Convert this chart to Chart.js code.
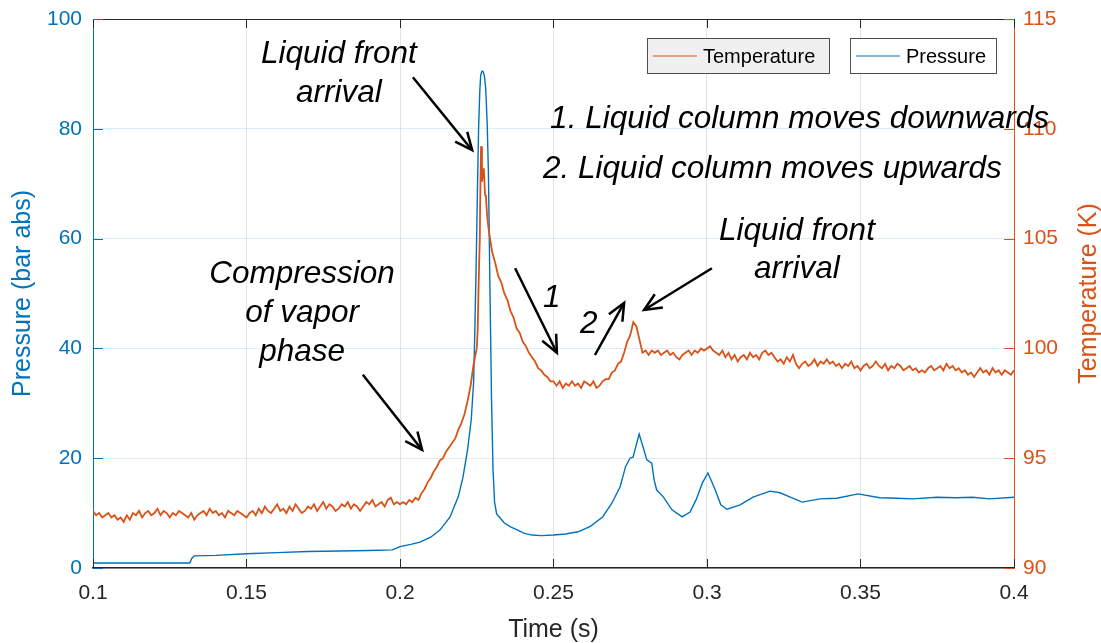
<!DOCTYPE html>
<html><head><meta charset="utf-8">
<script src="https://cdn.jsdelivr.net/npm/chart.js@4.4.1/dist/chart.umd.min.js"></script>
<style>html,body{margin:0;padding:0;background:#fff;}canvas{display:block;}</style>
</head><body>
<canvas id="c" width="1101" height="643"></canvas>
<script>
// ---------- data ----------
const xTicks = [0.1, 0.15, 0.2, 0.25, 0.3, 0.35, 0.4];
const xTickLabels = ['0.1', '0.15', '0.2', '0.25', '0.3', '0.35', '0.4'];
const pressureTicks = [0, 20, 40, 60, 80, 100];
const temperatureTicks = [90, 95, 100, 105, 110, 115];

const pressureTime = [0.100, 0.1315, 0.1322, 0.1330, 0.140, 0.150, 0.160, 0.170, 0.180, 0.190, 0.1975, 0.200, 0.2035, 0.2065,
  0.210, 0.213, 0.2163, 0.219, 0.2205, 0.222, 0.2232, 0.224, 0.2244, 0.2248, 0.2252, 0.2256, 0.226, 0.2263, 0.2267, 0.2271, 0.2275,
  0.2279, 0.2284, 0.2288, 0.2293, 0.2298, 0.2303, 0.2308, 0.2315, 0.2325, 0.234, 0.236, 0.238, 0.2405, 0.243, 0.246, 0.250, 0.254, 0.258,
  0.262, 0.266, 0.269, 0.2717, 0.2735, 0.2749, 0.2759, 0.2779, 0.2792, 0.2804, 0.282, 0.2828, 0.2836, 0.2857, 0.2886, 0.2919,
  0.2945, 0.2965, 0.2985, 0.3003, 0.3025, 0.3045, 0.3065, 0.3108, 0.315, 0.3205, 0.3238, 0.3275, 0.331, 0.3368, 0.3423,
  0.3492, 0.3563, 0.362, 0.367, 0.3749, 0.381, 0.3866, 0.392, 0.400];
const pressureBar = [0.9, 0.9, 1.8, 2.2, 2.3, 2.6, 2.8, 3.0, 3.1, 3.2, 3.3, 3.9, 4.3, 4.7,
  5.6, 6.9, 9.3, 13.0, 16.5, 21.5, 27, 34, 44, 55, 68, 80, 87, 89.8, 90.5, 90.4, 89.6,
  87.5, 81, 72, 51, 31, 18, 12, 9.8, 9.2, 8.2, 7.5, 7.0, 6.3, 6.0, 5.9, 6.0, 6.2, 6.6,
  7.6, 9.3, 11.8, 14.8, 18.5, 20.0, 20.2, 24.4, 22.0, 19.7, 19.1, 16.0, 14.2, 13.0, 10.6, 9.3,
  10.2, 12.5, 15.5, 17.3, 14.5, 11.5, 10.7, 11.5, 12.9, 14.0, 13.7, 12.8, 12.0, 12.6, 12.7,
  13.5, 12.8, 12.7, 12.6, 12.9, 12.8, 12.9, 12.6, 12.9];

// temperature sampled every 1 ms from 0.100 s to 0.400 s
const tempStart = 0.1, tempStep = 0.001;
const temperatureK = [
  92.6, 92.4, 92.5, 92.3, 92.4, 92.5, 92.3, 92.4, 92.2, 92.3,
  92.1, 92.4, 92.2, 92.5, 92.4, 92.6, 92.3, 92.5, 92.6, 92.4,
  92.5, 92.7, 92.4, 92.6, 92.5, 92.3, 92.5, 92.4, 92.6, 92.5,
  92.4, 92.3, 92.5, 92.2, 92.4, 92.5, 92.6, 92.4, 92.7, 92.5,
  92.6, 92.4, 92.5, 92.3, 92.6, 92.5, 92.4, 92.6, 92.5, 92.4,
  92.3, 92.5, 92.6, 92.4, 92.7, 92.5, 92.8, 92.6, 92.5, 92.7,
  92.9, 92.6, 92.7, 92.5, 92.8, 92.6, 92.9, 92.7, 92.5, 92.6,
  92.8, 92.7, 92.9, 92.6, 92.8, 93.0, 92.7, 92.9, 92.8, 92.6,
  92.7, 92.9, 92.8, 93.0, 92.7, 92.9, 92.8, 92.6, 92.8, 93.0,
  92.9, 93.1, 92.8, 92.9, 93.0, 92.8, 93.1, 93.2, 92.9, 93.0,
  92.9, 93.0, 92.9, 93.1, 93.0, 93.2, 93.1, 93.4, 93.6, 93.9,
  94.1, 94.4, 94.6, 94.9, 95.0, 95.3, 95.5, 95.7, 95.9, 96.3,
  96.6, 97.0, 97.6, 98.3, 99.3, 100.0, 105.0, 107.9, 106.9, 105.3,
  104.4, 103.9, 103.3, 103.0, 102.5, 102.2, 101.7, 101.4, 100.9, 100.7,
  100.3, 100.1, 99.8, 99.6, 99.4, 99.1, 99.0, 98.8, 98.7, 98.5,
  98.5, 98.3, 98.5, 98.2, 98.4, 98.3, 98.5, 98.3, 98.4, 98.2,
  98.5, 98.4, 98.3, 98.5, 98.2, 98.3, 98.5, 98.6, 98.6, 98.9,
  99.0, 99.3, 99.4, 99.8, 100.3, 100.6, 101.2, 101.0, 100.4, 99.8,
  99.9, 99.7, 99.9, 99.8, 99.9, 99.7, 99.8, 99.9, 99.7, 99.8,
  99.6, 99.5, 99.7, 99.8, 99.9, 99.7, 99.9, 99.8, 100.0, 99.9,
  100.0, 100.1, 99.9, 99.8, 99.7, 99.9, 99.6, 99.8, 99.5, 99.7,
  99.4, 99.6, 99.7, 99.5, 99.8, 99.6, 99.7, 99.5, 99.8, 99.9,
  99.7, 99.8, 99.6, 99.4, 99.5, 99.3, 99.6, 99.4, 99.7, 99.3,
  99.1, 99.3, 99.4, 99.2, 99.3, 99.5, 99.2, 99.4, 99.3, 99.5,
  99.3, 99.4, 99.2, 99.3, 99.1, 99.3, 99.2, 99.4, 99.1, 99.2,
  99.0, 99.2, 99.3, 99.1, 99.2, 99.4, 99.2, 99.1, 99.3, 99.0,
  99.2, 99.1, 99.3, 99.2, 99.0, 99.1, 99.2, 99.0, 99.1, 98.9,
  99.0, 98.9, 99.1, 99.2, 99.0, 99.1, 99.2, 99.0, 99.3, 99.1,
  99.2, 99.0, 99.1, 98.9, 99.0, 98.8, 98.9, 98.7, 98.9, 99.1,
  98.9, 99.0, 98.8, 99.1, 98.9, 99.0, 98.8, 99.0, 98.9, 98.8,
  99.0];
// extra samples around the temperature spike
const spikeTime = [0.2253, 0.2257, 0.2261, 0.2264, 0.2267, 0.2273, 0.2277, 0.2284];
const spikeK = [100.8, 103.5, 106.5, 109.2, 107.6, 108.2, 107.0, 106.0];

// annotations (positions in data units: time, pressure)
const notes = [
  {text: 'Liquid front', t: 0.1801, p: 92.0, align: 'center'},
  {text: 'arrival', t: 0.1801, p: 84.9, align: 'center'},
  {text: '1. Liquid column moves downwards', t: 0.2489, p: 80.1, align: 'left'},
  {text: '2. Liquid column moves upwards', t: 0.2466, p: 71.0, align: 'left'},
  {text: 'Compression', t: 0.1681, p: 51.9, align: 'center'},
  {text: 'of vapor', t: 0.1681, p: 44.8, align: 'center'},
  {text: 'phase', t: 0.1681, p: 37.7, align: 'center'},
  {text: 'Liquid front', t: 0.3293, p: 59.7, align: 'center'},
  {text: 'arrival', t: 0.3293, p: 52.8, align: 'center'},
  {text: '1', t: 0.2466, p: 47.5, align: 'left'},
  {text: '2', t: 0.2586, p: 42.8, align: 'left'}
];
const arrows = [
  {t1: 0.2042, p1: 89.4, t2: 0.2235, p2: 76.1},
  {t1: 0.1879, p1: 35.2, t2: 0.2072, p2: 21.5},
  {t1: 0.2375, p1: 54.6, t2: 0.2511, p2: 39.2},
  {t1: 0.2635, p1: 38.8, t2: 0.2730, p2: 48.3},
  {t1: 0.3016, p1: 54.6, t2: 0.2795, p2: 47.0}
];

// ---------- build ----------
const BLUE = '#0072BD', ORANGE = '#D95319', DARK = '#262626';
const FONT = '"Liberation Sans", Arial, Helvetica, sans-serif';

const pressureData = pressureTime.map((t, i) => ({x: t, y: pressureBar[i]}));
const tempData = temperatureK.map((v, i) => ({x: Math.round((tempStart + i * tempStep) * 10000) / 10000, y: v}));
spikeTime.forEach((t, i) => tempData.push({x: t, y: spikeK[i]}));
tempData.sort((a, b) => a.x - b.x);

function setTicks(arr) { return function (scale) { scale.ticks = arr.map(v => ({value: v})); }; }
function noPad(s) { s.paddingTop = 0; s.paddingBottom = 0; s.paddingLeft = 0; s.paddingRight = 0; }

function arrow(ctx, x1, y1, x2, y2) {
  ctx.beginPath(); ctx.moveTo(x1, y1); ctx.lineTo(x2, y2); ctx.stroke();
  const ang = Math.atan2(y2 - y1, x2 - x1), L = 19, a = 0.42;
  ctx.beginPath();
  ctx.moveTo(x2 - L * Math.cos(ang - a), y2 - L * Math.sin(ang - a));
  ctx.lineTo(x2, y2);
  ctx.lineTo(x2 - L * Math.cos(ang + a), y2 - L * Math.sin(ang + a));
  ctx.stroke();
}

const decor = {
  id: 'decor',
  afterDraw(chart) {
    const {ctx, chartArea: ca, scales} = chart;
    const X = scales.x, Y = scales.y, Y1 = scales.y1;
    ctx.save();
    // top border
    ctx.lineWidth = 1;
    ctx.strokeStyle = DARK;
    ctx.beginPath(); ctx.moveTo(ca.left, Math.round(ca.top) + 0.5); ctx.lineTo(ca.right, Math.round(ca.top) + 0.5); ctx.stroke();
    // inward ticks
    xTicks.forEach(v => {
      const px = Math.round(X.getPixelForValue(v)) + 0.5;
      ctx.beginPath();
      ctx.moveTo(px, ca.bottom); ctx.lineTo(px, ca.bottom - 9);
      ctx.moveTo(px, ca.top); ctx.lineTo(px, ca.top + 9);
      ctx.stroke();
    });
    ctx.strokeStyle = BLUE;
    pressureTicks.forEach(v => {
      const py = Math.round(Y.getPixelForValue(v)) + 0.5;
      ctx.beginPath(); ctx.moveTo(ca.left, py); ctx.lineTo(ca.left + 10, py); ctx.stroke();
    });
    ctx.strokeStyle = ORANGE;
    temperatureTicks.forEach(v => {
      const py = Math.round(Y1.getPixelForValue(v)) + 0.5;
      ctx.beginPath(); ctx.moveTo(ca.right, py); ctx.lineTo(ca.right - 10, py); ctx.stroke();
    });

    // axis titles
    ctx.font = '25px ' + FONT;
    ctx.textAlign = 'center'; ctx.textBaseline = 'middle';
    ctx.fillStyle = DARK;
    ctx.fillText('Time (s)', (ca.left + ca.right) / 2, 630);
    const cy = (ca.top + ca.bottom) / 2;
    ctx.save(); ctx.translate(23, cy); ctx.rotate(-Math.PI / 2); ctx.fillStyle = BLUE; ctx.fillText('Pressure (bar abs)', 0, 0); ctx.restore();
    ctx.save(); ctx.translate(1089, cy); ctx.rotate(-Math.PI / 2); ctx.fillStyle = ORANGE; ctx.fillText('Temperature (K)', 0, 0); ctx.restore();

    // legends
    ctx.font = '20px ' + FONT;
    ctx.textAlign = 'left';
    const boxes = [
      {x: 647, w: 182, fill: '#f0f0f0', color: ORANGE, label: 'Temperature'},
      {x: 850, w: 146, fill: '#ffffff', color: BLUE, label: 'Pressure'}
    ];
    boxes.forEach(b => {
      ctx.fillStyle = b.fill; ctx.fillRect(b.x, 38, b.w, 35);
      ctx.strokeStyle = '#4d4d4d'; ctx.lineWidth = 1; ctx.strokeRect(b.x + 0.5, 38.5, b.w, 35);
      ctx.strokeStyle = b.color; ctx.lineWidth = 1.2;
      ctx.beginPath(); ctx.moveTo(b.x + 6, 56); ctx.lineTo(b.x + 50, 56); ctx.stroke();
      ctx.fillStyle = '#000'; ctx.fillText(b.label, b.x + 56, 57);
    });

    // annotations
    ctx.fillStyle = '#000';
    ctx.font = 'italic 31.5px ' + FONT;
    ctx.textBaseline = 'alphabetic';
    notes.forEach(n => {
      ctx.textAlign = n.align;
      ctx.fillText(n.text, X.getPixelForValue(n.t), Y.getPixelForValue(n.p));
    });
    ctx.strokeStyle = '#000'; ctx.lineWidth = 2.5; ctx.lineCap = 'butt'; ctx.lineJoin = 'miter';
    arrows.forEach(a => arrow(ctx, X.getPixelForValue(a.t1), Y.getPixelForValue(a.p1), X.getPixelForValue(a.t2), Y.getPixelForValue(a.p2)));
    ctx.restore();
  }
};

new Chart(document.getElementById('c'), {
  type: 'line',
  data: {
    datasets: [
      {label: 'Temperature', data: tempData, yAxisID: 'y1', borderColor: ORANGE, borderWidth: 1.8, pointRadius: 0, tension: 0, fill: false},
      {label: 'Pressure', data: pressureData, yAxisID: 'y', borderColor: BLUE, borderWidth: 1.4, pointRadius: 0, tension: 0, fill: false}
    ]
  },
  options: {
    responsive: false,
    animation: false,
    events: [],
    layout: {padding: {top: 19, left: 0, right: 0, bottom: 0}},
    plugins: {legend: {display: false}, tooltip: {enabled: false}},
    scales: {
      x: {
        type: 'linear', min: 0.1, max: 0.4,
        afterBuildTicks: setTicks(xTicks),
        afterFit(s) { s.height = 75; noPad(s); },
        grid: {color: 'rgba(38,38,38,0.13)', drawTicks: false},
        border: {color: DARK, width: 1.5},
        ticks: {color: DARK, font: {family: FONT, size: 21}, padding: 13, maxRotation: 0, autoSkip: false,
          callback: (v, i) => xTickLabels[i]}
      },
      y: {
        type: 'linear', position: 'left', min: 0, max: 100,
        afterBuildTicks: setTicks(pressureTicks),
        afterFit(s) { s.width = 93; noPad(s); },
        grid: {color: 'rgba(0,114,189,0.13)', drawTicks: false},
        border: {color: BLUE, width: 1},
        ticks: {color: BLUE, font: {family: FONT, size: 21}, padding: 11, callback: v => String(v)}
      },
      y1: {
        type: 'linear', position: 'right', min: 90, max: 115,
        afterBuildTicks: setTicks(temperatureTicks),
        afterFit(s) { s.width = 87; noPad(s); },
        grid: {display: false, drawTicks: false},
        border: {color: ORANGE, width: 1},
        ticks: {color: ORANGE, font: {family: FONT, size: 21}, padding: 9, callback: v => String(v)}
      }
    }
  },
  plugins: [decor]
});
</script>
</body></html>
